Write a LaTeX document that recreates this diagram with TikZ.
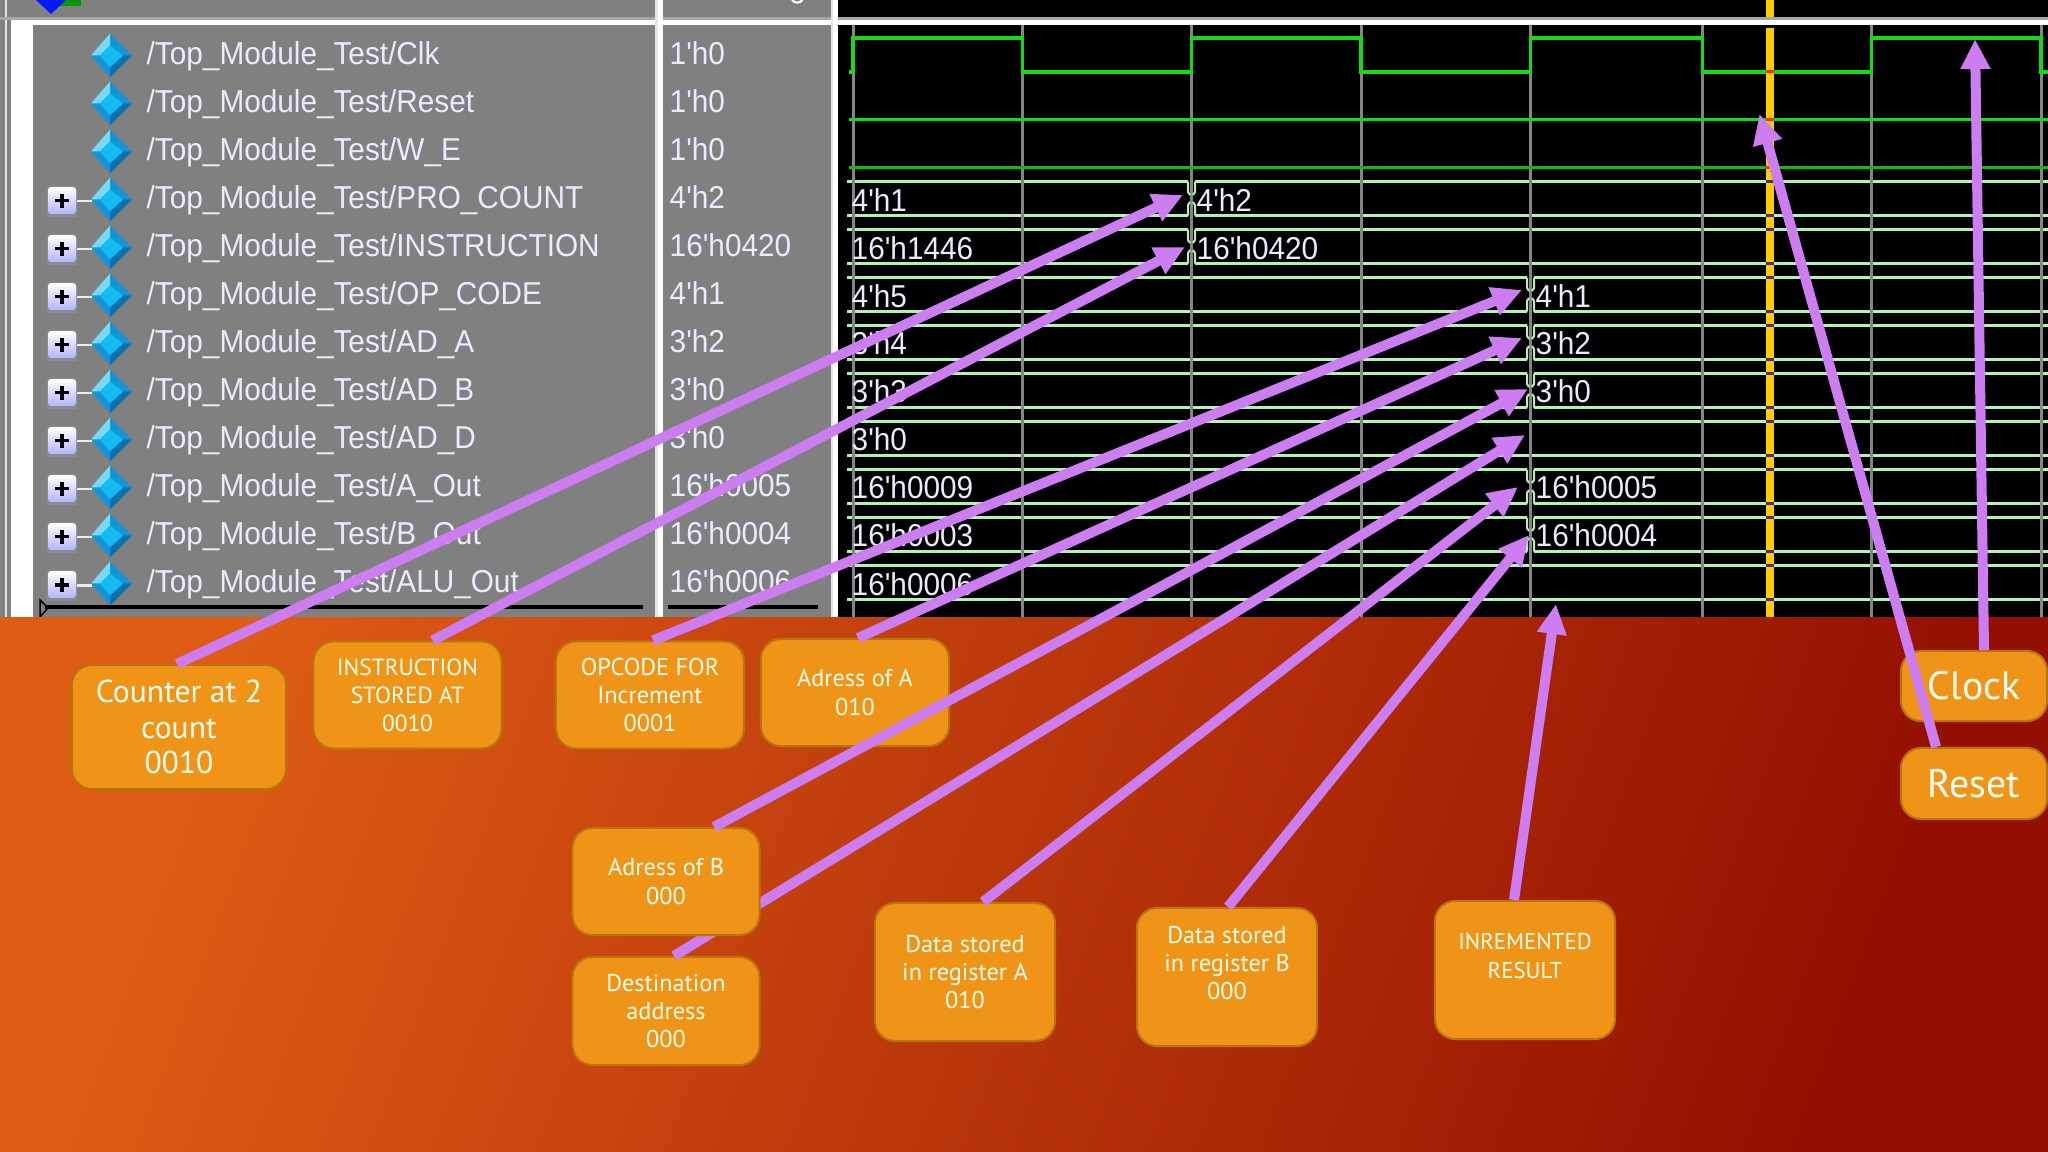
\documentclass[tikz,border=0pt]{standalone}
\usepackage{fontspec}
\usetikzlibrary{arrows.meta, calc}
\setmainfont{PT Sans}
\newfontfamily\wavefont[FakeStretch = 0.94]{Liberation Sans}
\definecolor{panelgray}{HTML}{808080}
\definecolor{gridgray}{HTML}{858585}
\definecolor{cursoryellow}{HTML}{FFCC00}
\definecolor{cursorred}{HTML}{E8340A}
\definecolor{cursorpurple}{HTML}{4A2F80}
\definecolor{wavegreen}{HTML}{14DC14}
\definecolor{busgreen}{HTML}{B6F0B6}
\definecolor{arrowpurple}{HTML}{CC7DF2}
\definecolor{boxorange}{HTML}{EF9416}
\definecolor{boxedge}{HTML}{B8740F}
\definecolor{bgleft}{HTML}{DE5C14}
\definecolor{bgmid}{HTML}{C03C08}
\definecolor{bgright}{HTML}{931000}
\newcommand{\gemicon}[1]{
	\fill[gemside] (110, #1 - 22) -- (132, #1) -- (110, #1 + 22) -- (91, #1) -- cycle;
	\fill[gemlight] (110, #1 - 22) -- (110, #1 - 10) -- (100, #1) -- (91, #1) -- cycle;
	\fill[gemdark] (132, #1) -- (123, #1) -- (110, #1 + 12) -- (110, #1 + 22) -- cycle;
	\fill[gemcore] (110, #1 - 10) -- (123, #1) -- (110, #1 + 12) -- (100, #1) -- cycle;
}
\tikzset{
	gemside/.style = {fill = {rgb,255:red,18;green,148;blue,216}},
	gemlight/.style = {fill = {rgb,255:red,120;green,218;blue,245}},
	gemdark/.style = {fill = {rgb,255:red,11;green,112;blue,168}},
	gemcore/.style = {fill = {rgb,255:red,18;green,187;blue,242}},
	signame/.style = {anchor = base west, inner sep = 0pt, text = white!92!blue, font = \wavefont\fontsize{9}{9}\selectfont},
	note/.style = {draw = boxedge, line width = 0.02cm, fill = boxorange, rounded corners = 0.2cm, align = center, text = white!95!yellow, inner sep = 0pt, font = \fontsize{6.9}{8}\selectfont},
	pointer/.style = {draw = arrowpurple, line width = 0.1cm, -{Triangle[length = 0.3cm, width = 0.28cm]}, arrowpurple}
}
\begin{document}
\begin{tikzpicture}[x = 0.01cm, y = -0.01cm]
	\useasboundingbox (0, 0) rectangle (2048, 1152);
	
	\fill[panelgray] (0, 0) rectangle (838, 617);
	\fill[black] (838, 0) rectangle (2048, 617);
	\fill[white] (11, 25) rectangle (33, 617);
	\draw[white!80!gray, line width = 0.02cm] (6, 0) -- (6, 617);
	\fill[black!35] (0, 17) rectangle (2048, 20);
	\fill[white] (11, 20) rectangle (2048, 25);
	\fill[white!80!gray] (655, 0) rectangle (658, 617);
	\fill[white] (658, 0) rectangle (663, 617);
	\fill[white!80!gray] (831, 0) rectangle (833, 617);
	\fill[white] (833, 0) rectangle (838, 617);
	\fill[black] (838, 0) rectangle (2048, 17);
	\fill[green!60!black] (60, 0) rectangle (81, 6);
	\fill[blue!90!cyan] (36, 0) -- (66, 0) -- (51, 14) -- cycle;
	\node[signame, text = white] (msgs) at (749, -2) {Msgs};
	
	\foreach \r in {0, ..., 8}{
		\draw[busgreen, line width = 0.03cm] (847, 181.7 + 48 * \r) -- (2048, 181.7 + 48 * \r);
		\draw[busgreen, line width = 0.03cm] (847, 215.7 + 48 * \r) -- (2048, 215.7 + 48 * \r);
	}
	\foreach \r in {0, 1}{
		\fill[black] (1188, 180 + 48 * \r) rectangle (1195, 218 + 48 * \r);
	}
	\foreach \r in {2, 3, 4, 6, 7}{
		\fill[black] (1527, 180 + 48 * \r) rectangle (1534, 218 + 48 * \r);
	}
	\draw[gridgray, line width = 0.03cm] (853, 25) -- (853, 617);
	\foreach \x in {1022.4, 1191.7, 1361, 1530.5, 1702.5, 1871.5, 2041}{
		\draw[gridgray, line width = 0.03cm] (\x, 25) -- (\x, 617);
	}
	\foreach \r in {0, 1}{
		\draw[busgreen, line width = 0.02cm] (1188, 181.7 + 48 * \r) -- (1188, 192 + 48 * \r) -- (1190, 195 + 48 * \r);
		\draw[busgreen, line width = 0.02cm] (1188, 215.7 + 48 * \r) -- (1188, 205 + 48 * \r) -- (1190, 202 + 48 * \r);
		\draw[busgreen, line width = 0.02cm] (1195, 181.7 + 48 * \r) -- (1195, 192 + 48 * \r) -- (1193, 195 + 48 * \r);
		\draw[busgreen, line width = 0.02cm] (1195, 215.7 + 48 * \r) -- (1195, 205 + 48 * \r) -- (1193, 202 + 48 * \r);
	}
	\foreach \r in {2, 3, 4, 6, 7}{
		\draw[busgreen, line width = 0.02cm] (1527, 181.7 + 48 * \r) -- (1527, 192 + 48 * \r) -- (1529, 195 + 48 * \r);
		\draw[busgreen, line width = 0.02cm] (1527, 215.7 + 48 * \r) -- (1527, 205 + 48 * \r) -- (1529, 202 + 48 * \r);
		\draw[busgreen, line width = 0.02cm] (1534, 181.7 + 48 * \r) -- (1534, 192 + 48 * \r) -- (1532, 195 + 48 * \r);
		\draw[busgreen, line width = 0.02cm] (1534, 215.7 + 48 * \r) -- (1534, 205 + 48 * \r) -- (1532, 202 + 48 * \r);
	}
	\draw[wavegreen, line width = 0.035cm] (849, 72) -- (853, 72) -- (853, 38) -- (1022.4, 38) -- (1022.4, 72) -- (1191.7, 72) -- (1191.7, 38) -- (1361, 38) -- (1361, 72) -- (1530.5, 72) -- (1530.5, 38) -- (1702.5, 38) -- (1702.5, 72) -- (1871.5, 72) -- (1871.5, 38) -- (2041, 38) -- (2041, 72) -- (2048, 72);
	\draw[wavegreen, line width = 0.035cm] (849, 119.5) -- (2048, 119.5);
	\draw[wavegreen!85!black, line width = 0.03cm] (849, 167.7) -- (2048, 167.7);
	
	\fill[cursoryellow] (1766, 0) rectangle (1774, 17);
	\fill[cursoryellow] (1766, 28.5) rectangle (1774, 617);
	\foreach \y in {72, 119.5, 167.7}{
		\fill[cursorred] (1766, \y - 1.5) rectangle (1774, \y + 1.5);
	}
	\foreach \r in {0, ..., 8}{
		\fill[cursorpurple] (1766, 180.2 + 48 * \r) rectangle (1774, 183.2 + 48 * \r);
		\fill[cursorpurple] (1766, 214.2 + 48 * \r) rectangle (1774, 217.2 + 48 * \r);
	}
	
	\foreach \r in {0, ..., 11}{
		\gemicon{55.5 + 48 * \r}
	}
	\foreach \r in {3, ..., 11}{
		\draw[white!85!gray, line width = 0.02cm] (77, 57.5 + 48 * \r) -- (92, 57.5 + 48 * \r);
		\fill[black!45] (47, 44 + 48 * \r) rectangle (77, 73 + 48 * \r);
		\shade[top color = white, bottom color = white!70!blue, rounded corners = 0.03cm] (48, 43 + 48 * \r) rectangle (76, 70 + 48 * \r);
		\draw[black, line width = 0.03cm] (55, 57 + 48 * \r) -- (69, 57 + 48 * \r);
		\draw[black, line width = 0.03cm] (62, 50 + 48 * \r) -- (62, 64 + 48 * \r);
	}
	
	\node[signame] (nameclk) at (146, 64.5) {/Top\_Module\_Test/Clk};
	\node[signame] (namereset) at (146, 112.5) {/Top\_Module\_Test/Reset};
	\node[signame] (namewe) at (146, 160.5) {/Top\_Module\_Test/W\_E};
	\node[signame] (namecount) at (146, 208.5) {/Top\_Module\_Test/PRO\_COUNT};
	\node[signame] (nameinstr) at (146, 256.5) {/Top\_Module\_Test/INSTRUCTION};
	\node[signame] (nameop) at (146, 304.5) {/Top\_Module\_Test/OP\_CODE};
	\node[signame] (nameada) at (146, 352.5) {/Top\_Module\_Test/AD\_A};
	\node[signame] (nameadb) at (146, 400.5) {/Top\_Module\_Test/AD\_B};
	\node[signame] (nameadd) at (146, 448.5) {/Top\_Module\_Test/AD\_D};
	\node[signame] (nameaout) at (146, 496.5) {/Top\_Module\_Test/A\_Out};
	\node[signame] (namebout) at (146, 544.5) {/Top\_Module\_Test/B\_Out};
	\node[signame] (namealu) at (146, 592.5) {/Top\_Module\_Test/ALU\_Out};
	
	\node[signame] (valclk) at (669, 64.5) {1'h0};
	\node[signame] (valreset) at (669, 112.5) {1'h0};
	\node[signame] (valwe) at (669, 160.5) {1'h0};
	\node[signame] (valcount) at (669, 208.5) {4'h2};
	\node[signame] (valinstr) at (669, 256.5) {16'h0420};
	\node[signame] (valop) at (669, 304.5) {4'h1};
	\node[signame] (valada) at (669, 352.5) {3'h2};
	\node[signame] (valadb) at (669, 400.5) {3'h0};
	\node[signame] (valadd) at (669, 448.5) {3'h0};
	\node[signame] (valaout) at (669, 496.5) {16'h0005};
	\node[signame] (valbout) at (669, 544.5) {16'h0004};
	\node[signame] (valalu) at (669, 592.5) {16'h0006};
	
	\node[signame] (buscount) at (851, 212) {4'h1};
	\node[signame] (businstr) at (851, 260) {16'h1446};
	\node[signame] (busop) at (851, 307.5) {4'h5};
	\node[signame] (busada) at (851, 355) {3'h4};
	\node[signame] (busadb) at (851, 403) {3'h3};
	\node[signame] (busadd) at (851, 451) {3'h0};
	\node[signame] (busaout) at (851, 499) {16'h0009};
	\node[signame] (busbout) at (851, 547) {16'h0003};
	\node[signame] (busalu) at (851, 595) {16'h0006};
	\node[signame] (buscountb) at (1196, 212) {4'h2};
	\node[signame] (businstrb) at (1196, 260) {16'h0420};
	\node[signame] (busopb) at (1535, 307.5) {4'h1};
	\node[signame] (busadab) at (1535, 355) {3'h2};
	\node[signame] (busadbb) at (1535, 403) {3'h0};
	\node[signame] (busaoutb) at (1535, 499) {16'h0005};
	\node[signame] (busboutb) at (1535, 547) {16'h0004};
	
	\draw[black, line width = 0.03cm] (45, 607) -- (643, 607);
	\draw[black, line width = 0.03cm] (668, 607) -- (818, 607);
	\draw[black, line width = 0.015cm] (40, 600) -- (48, 608) -- (40, 617) -- cycle;
	
	\shade[left color = bgleft, middle color = bgmid, right color = bgright, shading angle = 70] (0, 617) rectangle (2048, 1152);
	
	\coordinate (tipcount) at (1183, 195);
	\coordinate (tipinstr) at (1185, 247);
	\coordinate (tipop) at (1522, 290);
	\coordinate (tipada) at (1522, 338);
	\coordinate (tipadb) at (1528, 389);
	\coordinate (tipadd) at (1525, 435);
	\coordinate (tipaout) at (1518, 487);
	\coordinate (tipbout) at (1529, 535);
	\coordinate (tipalu) at (1556, 604);
	\coordinate (tipclk) at (1975, 39);
	\coordinate (tipreset) at (1759.5, 114);
	
	\node[note, minimum width = 1.87cm, minimum height = 1.08cm] (dest) at (666, 1011) {Destination\\address\\000};
	\draw[pointer] ($(dest.north) + (8, 0)$) -- (tipadd);
	\node[note, minimum width = 1.87cm, minimum height = 1.07cm] (adrb) at (666, 881.5) {Adress of B\\000};
	\node[note, minimum width = 2.14cm, minimum height = 1.24cm, font = \fontsize{9}{10.2}\selectfont] (counter) at (179, 727) {Counter at 2\\count\\0010};
	\node[note, minimum width = 1.88cm, minimum height = 1.07cm, font = \fontsize{6.65}{8}\selectfont] (instr) at (407.5, 695) {INSTRUCTION\\STORED AT\\0010};
	\node[note, minimum width = 1.88cm, minimum height = 1.07cm] (opcode) at (650, 695) {OPCODE FOR\\Increment\\0001};
	\node[note, minimum width = 1.88cm, minimum height = 1.07cm] (adra) at (855, 692.5) {Adress of A\\010};
	\node[note, minimum width = 1.8cm, minimum height = 1.38cm] (dataa) at (965, 972) {Data stored\\in register A\\010};
	\node[note, minimum width = 1.8cm, minimum height = 1.38cm] (datab) at (1227, 977) {Data stored\\in register B\\000\\~};
	\node[note, minimum width = 1.8cm, minimum height = 1.38cm, font = \fontsize{6.5}{8}\selectfont] (result) at (1525, 970) {INREMENTED\\RESULT\\~};
	\node[note, minimum width = 1.46cm, minimum height = 0.7cm, font = \fontsize{11.3}{12}\selectfont] (clock) at (1974, 686) {Clock};
	\node[note, minimum width = 1.46cm, minimum height = 0.71cm, font = \fontsize{11.3}{12}\selectfont] (reset) at (1974, 783.5) {Reset};
	
	\draw[pointer] ($(counter.north) + (-2, 0)$) -- (tipcount);
	\draw[pointer] ($(instr.north) + (25, 0)$) -- (tipinstr);
	\draw[pointer] ($(opcode.north) + (3, 0)$) -- (tipop);
	\draw[pointer] ($(adra.north) + (3, 0)$) -- (tipada);
	\draw[pointer] ($(adrb.north) + (48, 0)$) -- (tipadb);
	\draw[pointer] ($(dataa.north) + (18, 0)$) -- (tipaout);
	\draw[pointer] ($(datab.north) + (1, 0)$) -- (tipbout);
	\draw[pointer] ($(result.north) + (-11, 0)$) -- (tipalu);
	\draw[pointer] ($(clock.north) + (10, 0)$) -- (tipclk);
	\draw[pointer] ($(reset.north) + (-38, 0)$) -- (tipreset);
\end{tikzpicture}
\end{document}
